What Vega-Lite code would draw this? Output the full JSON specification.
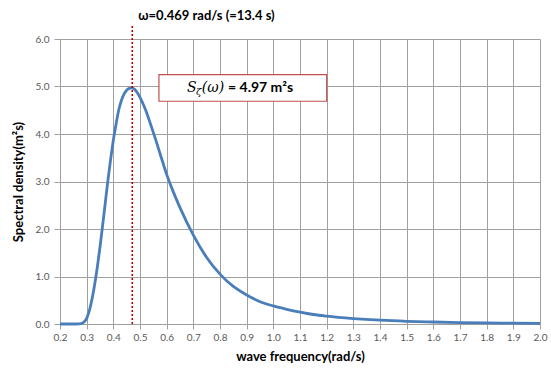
{
  "$schema": "https://vega.github.io/schema/vega-lite/v6.json",
  "width": 480,
  "height": 285,
  "autosize": {"type": "none"},
  "padding": {"left": 60, "top": 39, "right": 11, "bottom": 45},
  "background": "white",
  "config": {"view": {"stroke": null}, "font": "Lato"},
  "layer": [
    {
      "data": {"values": [
        {"omega": 0.20, "S": 0}, {"omega": 0.22, "S": 0}, {"omega": 0.24, "S": 0}, {"omega": 0.26, "S": 0},
        {"omega": 0.28, "S": 0.01}, {"omega": 0.29, "S": 0.04}, {"omega": 0.30, "S": 0.12}, {"omega": 0.31, "S": 0.28},
        {"omega": 0.32, "S": 0.52}, {"omega": 0.33, "S": 0.83}, {"omega": 0.34, "S": 1.2}, {"omega": 0.35, "S": 1.62},
        {"omega": 0.36, "S": 2.08}, {"omega": 0.37, "S": 2.56}, {"omega": 0.38, "S": 3.04}, {"omega": 0.39, "S": 3.47},
        {"omega": 0.40, "S": 3.87}, {"omega": 0.41, "S": 4.2}, {"omega": 0.42, "S": 4.5}, {"omega": 0.43, "S": 4.7},
        {"omega": 0.44, "S": 4.84}, {"omega": 0.45, "S": 4.92}, {"omega": 0.46, "S": 4.96}, {"omega": 0.47, "S": 4.97},
        {"omega": 0.48, "S": 4.94}, {"omega": 0.49, "S": 4.87}, {"omega": 0.50, "S": 4.77}, {"omega": 0.52, "S": 4.52},
        {"omega": 0.54, "S": 4.2}, {"omega": 0.56, "S": 3.86}, {"omega": 0.58, "S": 3.5}, {"omega": 0.60, "S": 3.15},
        {"omega": 0.62, "S": 2.85}, {"omega": 0.65, "S": 2.45}, {"omega": 0.70, "S": 1.87}, {"omega": 0.75, "S": 1.4},
        {"omega": 0.80, "S": 1.05}, {"omega": 0.85, "S": 0.79}, {"omega": 0.90, "S": 0.61}, {"omega": 0.95, "S": 0.47},
        {"omega": 1.00, "S": 0.38}, {"omega": 1.05, "S": 0.31}, {"omega": 1.10, "S": 0.25}, {"omega": 1.15, "S": 0.2},
        {"omega": 1.20, "S": 0.165}, {"omega": 1.30, "S": 0.115}, {"omega": 1.40, "S": 0.08}, {"omega": 1.50, "S": 0.057},
        {"omega": 1.60, "S": 0.042}, {"omega": 1.70, "S": 0.031}, {"omega": 1.80, "S": 0.023}, {"omega": 1.90, "S": 0.017},
        {"omega": 2.00, "S": 0.013}
      ]},
      "mark": {"type": "line", "color": "#4A7EBB", "strokeWidth": 2.8, "interpolate": "monotone"},
      "encoding": {
        "x": {
          "field": "omega", "type": "quantitative",
          "scale": {"domain": [0.2, 2.0], "nice": false, "zero": false},
          "axis": {
            "tickCount": 18,
            "format": ".1f", "grid": true, "gridColor": "#A0A0A0", "gridOpacity": 1,
            "domainColor": "#A0A0A0", "tickColor": "#A0A0A0", "tickSize": 5,
            "labelColor": "#595959", "labelFontSize": 10, "labelPadding": 3, "labelFlush": false, "labelOverlap": false,
            "title": "wave frequency(rad/s)", "titleFontSize": 13, "titleFontWeight": "bold",
            "titleColor": "#000000", "titlePadding": 8
          }
        },
        "y": {
          "field": "S", "type": "quantitative",
          "scale": {"domain": [0, 6], "nice": false},
          "axis": {
            "tickCount": 6,
            "format": ".1f", "grid": true, "gridColor": "#A0A0A0", "gridOpacity": 1,
            "domainColor": "#A0A0A0", "tickColor": "#A0A0A0", "tickSize": 6,
            "labelColor": "#595959", "labelFontSize": 10, "labelPadding": 5, "labelOverlap": false,
            "title": "Spectral density(m²s)", "titleFontSize": 13, "titleFontWeight": "bold",
            "titleColor": "#000000", "titlePadding": 10
          }
        }
      }
    },
    {
      "data": {"values": [{}]},
      "mark": {"type": "rule", "color": "#C00000", "strokeDash": [2, 2], "strokeWidth": 1.6},
      "encoding": {"x": {"datum": 0.471, "type": "quantitative"}, "y": {"datum": 0, "type": "quantitative"}, "y2": {"datum": 6.3}}
    },
    {
      "data": {"values": [{}]},
      "mark": {"type": "text", "text": "ω=0.469 rad/s (=13.4 s)", "align": "left", "baseline": "middle", "dx": 6, "fontSize": 13, "fontWeight": "bold", "color": "#000000"},
      "encoding": {"x": {"datum": 0.471, "type": "quantitative"}, "y": {"datum": 6.48, "type": "quantitative"}}
    },
    {
      "data": {"values": [{}]},
      "mark": {"type": "rect", "fill": "white", "stroke": "#C0504D", "strokeWidth": 1.2},
      "encoding": {"x": {"datum": 0.571, "type": "quantitative"}, "x2": {"datum": 1.2}, "y": {"datum": 4.69, "type": "quantitative"}, "y2": {"datum": 5.25}}
    },
    {
      "data": {"values": [{}]},
      "mark": {"type": "text", "text": "S", "align": "left", "baseline": "middle", "font": "DejaVu Serif", "fontStyle": "italic", "fontSize": 14, "color": "#000000"},
      "encoding": {"x": {"datum": 0.676, "type": "quantitative"}, "y": {"datum": 4.97, "type": "quantitative"}}
    },
    {
      "data": {"values": [{}]},
      "mark": {"type": "text", "text": "ζ", "align": "left", "baseline": "middle", "font": "DejaVu Serif", "fontStyle": "italic", "fontSize": 10, "dy": 4, "color": "#000000"},
      "encoding": {"x": {"datum": 0.710, "type": "quantitative"}, "y": {"datum": 4.97, "type": "quantitative"}}
    },
    {
      "data": {"values": [{}]},
      "mark": {"type": "text", "text": "(ω)", "align": "left", "baseline": "middle", "font": "DejaVu Serif", "fontStyle": "italic", "fontSize": 14, "color": "#000000"},
      "encoding": {"x": {"datum": 0.732, "type": "quantitative"}, "y": {"datum": 4.97, "type": "quantitative"}}
    },
    {
      "data": {"values": [{}]},
      "mark": {"type": "text", "text": "= 4.97 m²s", "align": "left", "baseline": "middle", "fontSize": 14, "fontWeight": "bold", "color": "#000000"},
      "encoding": {"x": {"datum": 0.83, "type": "quantitative"}, "y": {"datum": 4.97, "type": "quantitative"}}
    }
  ]
}
